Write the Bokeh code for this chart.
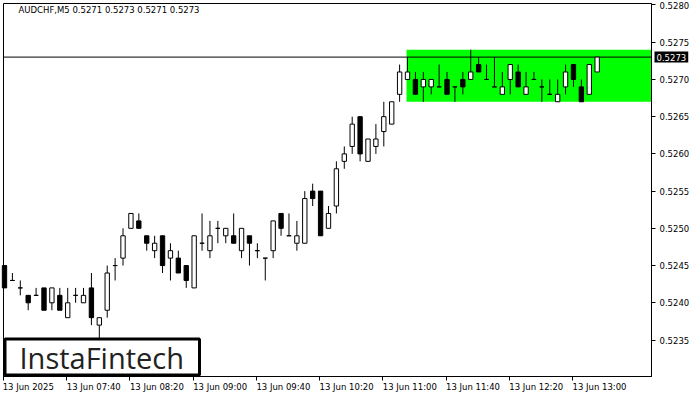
from bokeh.plotting import figure
from bokeh.models import (FixedTicker, Label, BoxAnnotation, ColumnDataSource,
                          PrintfTickFormatter, LinearAxis, CustomJSTickFormatter)
from bokeh.embed import file_html
from bokeh.resources import INLINE

title_text = "AUDCHF,M5  0.5271 0.5273 0.5271 0.5273"

opens = [0.5245, 0.5243, 0.5242, 0.5241, 0.5241, 0.5242, 0.5240, 0.5241, 0.5238, 0.5241,
         0.5240, 0.5242, 0.5237, 0.5239, 0.5245, 0.5246, 0.5250, 0.5251, 0.5249, 0.5247,
         0.5249, 0.5246, 0.5246, 0.5245, 0.5242, 0.5248, 0.5247, 0.5250, 0.5249, 0.5249,
         0.5247, 0.5249, 0.5247, 0.5246, 0.5247, 0.5252, 0.5249, 0.5248, 0.5248, 0.5255,
         0.5255, 0.5250, 0.5253, 0.5259, 0.5261, 0.5265, 0.5259, 0.5261, 0.5263, 0.5264,
         0.5268, 0.5270, 0.5270, 0.5269, 0.5269, 0.5269, 0.5270, 0.5269, 0.5270, 0.5270,
         0.5272, 0.5270, 0.5269, 0.5268, 0.5270, 0.5271, 0.5268, 0.5270, 0.5269, 0.5268,
         0.5267, 0.5269, 0.5272, 0.5269, 0.5268, 0.5271]
highs = [0.5245, 0.5244, 0.5243, 0.5241, 0.5242, 0.5242, 0.5242, 0.5242, 0.5242, 0.5242,
         0.5242, 0.5244, 0.5238, 0.5245, 0.5246, 0.5250, 0.5252, 0.5252, 0.5249, 0.5249,
         0.5249, 0.5248, 0.5247, 0.5245, 0.5249, 0.5252, 0.5251, 0.5251, 0.5250, 0.5252,
         0.5250, 0.5249, 0.5248, 0.5246, 0.5251, 0.5252, 0.5252, 0.5251, 0.5255, 0.5256,
         0.5255, 0.5253, 0.5259, 0.5261, 0.5265, 0.5265, 0.5262, 0.5264, 0.5267, 0.5267,
         0.5272, 0.5273, 0.5271, 0.5271, 0.5270, 0.5272, 0.5271, 0.5269, 0.5271, 0.5274,
         0.5273, 0.5272, 0.5273, 0.5271, 0.5272, 0.5272, 0.5271, 0.5271, 0.5270, 0.5270,
         0.5270, 0.5272, 0.5272, 0.5270, 0.5272, 0.5273]
lows = [0.5242, 0.5243, 0.5241, 0.5239, 0.5241, 0.5239, 0.5239, 0.5239, 0.5238, 0.5240,
        0.5240, 0.5237, 0.5235, 0.5238, 0.5243, 0.5245, 0.5250, 0.5250, 0.5247, 0.5246,
        0.5244, 0.5243, 0.5244, 0.5242, 0.5242, 0.5247, 0.5246, 0.5248, 0.5248, 0.5248,
        0.5246, 0.5245, 0.5246, 0.5243, 0.5246, 0.5249, 0.5249, 0.5247, 0.5248, 0.5253,
        0.5249, 0.5250, 0.5252, 0.5258, 0.5260, 0.5259, 0.5259, 0.5260, 0.5261, 0.5264,
        0.5267, 0.5270, 0.5268, 0.5267, 0.5268, 0.5269, 0.5268, 0.5267, 0.5268, 0.5270,
        0.5271, 0.5270, 0.5269, 0.5268, 0.5268, 0.5269, 0.5268, 0.5270, 0.5267, 0.5268,
        0.5267, 0.5268, 0.5269, 0.5267, 0.5268, 0.5271]
closes = [0.5242, 0.5243, 0.5242, 0.5240, 0.5241, 0.5239, 0.5242, 0.5239, 0.5240, 0.5241,
          0.5241, 0.5238, 0.5238, 0.5244, 0.5245, 0.5249, 0.5252, 0.5250, 0.5248, 0.5248,
          0.5245, 0.5247, 0.5244, 0.5243, 0.5249, 0.5248, 0.5249, 0.5250, 0.5250, 0.5248,
          0.5250, 0.5248, 0.5247, 0.5246, 0.5251, 0.5250, 0.5249, 0.5249, 0.5254, 0.5254,
          0.5249, 0.5252, 0.5258, 0.5260, 0.5264, 0.5260, 0.5262, 0.5262, 0.5265, 0.5267,
          0.5271, 0.5271, 0.5268, 0.5270, 0.5270, 0.5269, 0.5268, 0.5269, 0.5269, 0.5271,
          0.5271, 0.5270, 0.5269, 0.5269, 0.5272, 0.5269, 0.5269, 0.5270, 0.5269, 0.5268,
          0.5268, 0.5271, 0.5270, 0.5267, 0.5272, 0.5273]

pattern_start = 51

x_tick_bars = [0, 8, 16, 24, 32, 40, 48, 56, 64, 72]
x_tick_labels = ["13 Jun 2025", "13 Jun 07:40", "13 Jun 08:20", "13 Jun 09:00",
                 "13 Jun 09:40", "13 Jun 10:20", "13 Jun 11:00", "13 Jun 11:40",
                 "13 Jun 12:20", "13 Jun 13:00"]
price_ticks = [0.5235, 0.5240, 0.5245, 0.5250, 0.5255, 0.5260, 0.5265, 0.5270, 0.5275, 0.5280]

# ---------------- layout (pixels of the figure) ----------------
W, H = 692, 392
CL, CR, CT, CB = 3, 651, 3, 376          # chart box in figure pixels
cx0, cx1 = -0.125, 81.875                 # chart box in bar units
cy0, cy1 = 0.52301, 0.52802               # chart box in price units
Sx = (CR - CL) / (cx1 - cx0)
Sy = (CB - CT) / (cy1 - cy0)
xr = (cx0 - CL / Sx, cx1 + (W - CR) / Sx)
yr = (cy0 - (H - CB) / Sy, cy1 + CT / Sy)

n = len(opens)
src = ColumnDataSource(dict(
    x=list(range(n)),
    high=highs,
    low=lows,
    top=[max(o, c) for o, c in zip(opens, closes)],
    bottom=[min(o, c) for o, c in zip(opens, closes)],
    fill=["white" if c >= o else "black" for o, c in zip(opens, closes)],
))

p = figure(width=W, height=H, x_range=xr, y_range=yr,
           output_backend="svg", toolbar_location=None, y_axis_location="right",
           min_border=0, min_border_left=0, min_border_right=0,
           min_border_top=0, min_border_bottom=0)
p.xgrid.visible = False
p.ygrid.visible = False
p.outline_line_color = None
p.background_fill_color = "white"
p.border_fill_color = "white"

# pattern rectangle (rising-trend continuation range)
p.quad(left=[pattern_start - 0.125], right=[cx1],
       top=[max(highs[pattern_start:])], bottom=[min(lows[pattern_start:])],
       fill_color="#00FF00", line_color=None)

# current price line
p.segment(x0=[cx0], x1=[cx1], y0=[closes[-1]], y1=[closes[-1]], line_color="black", line_width=1)

# candles
p.segment(x0="x", y0="low", x1="x", y1="high", source=src, line_color="black", line_width=1)
p.vbar(x="x", width=0.55, top="top", bottom="bottom", source=src,
       fill_color="fill", line_color="black", line_width=1)

# chart border
p.quad(left=[cx0], right=[cx1], bottom=[cy0], top=[cy1], fill_color=None,
       line_color="black", line_width=1)

font = "DejaVu Sans"
fsize = "8.5px"

# price axis
ya = p.yaxis[0]
ya.fixed_location = cx1
ya.bounds = (cy0, cy1)
ya.ticker = FixedTicker(ticks=price_ticks)
ya.formatter = PrintfTickFormatter(format="%.4f")
ya.major_tick_out = 4
ya.major_tick_in = 0
ya.minor_tick_line_color = None
ya.axis_line_color = "black"
ya.major_tick_line_color = "black"
ya.major_label_text_font = font
ya.major_label_text_font_size = fsize
ya.major_label_text_color = "black"
ya.major_label_standoff = 4

# time axis: tick marks
xa = p.xaxis[0]
xa.fixed_location = cy0
xa.bounds = (cx0, cx1)
xa.ticker = FixedTicker(ticks=[t - 0.125 for t in x_tick_bars])
xa.formatter = CustomJSTickFormatter(code="return ''")
xa.major_tick_out = 4
xa.major_tick_in = 0
xa.minor_tick_line_color = None
xa.axis_line_color = "black"
xa.major_tick_line_color = "black"

# time axis: left-aligned labels (tick positions shifted by half a label width)
label_ticks = [t - 0.125 + (4.5 * len(s) / 2) / Sx for t, s in zip(x_tick_bars, x_tick_labels)]
xl = LinearAxis(fixed_location=cy0, ticker=FixedTicker(ticks=label_ticks),
                formatter=CustomJSTickFormatter(args=dict(labs=x_tick_labels),
                                                code="return labs[index]"),
                axis_line_color=None, major_tick_line_color=None, minor_tick_line_color=None,
                major_tick_out=0, major_tick_in=0, major_label_standoff=5,
                major_label_text_font=font, major_label_text_font_size=fsize,
                major_label_text_color="black")
p.add_layout(xl, "below")

# title
p.add_layout(Label(x=18, y=H - 4, x_units="screen", y_units="screen", text=title_text,
                   text_font=font, text_font_size=fsize, text_color="black",
                   text_align="left", text_baseline="top"))

# current price tag on the price axis
p.add_layout(Label(x=cx1, y=closes[-1], x_offset=3, text="%.4f" % closes[-1],
                   text_font=font, text_font_size=fsize, text_color="white",
                   text_align="left", text_baseline="middle",
                   background_fill_color="black", padding=2))

# logo
p.add_layout(BoxAnnotation(left=CL + 1.5, right=CL + 196, bottom=H - CB + 1.5, top=H - CB + 37.5,
                           left_units="screen", right_units="screen",
                           top_units="screen", bottom_units="screen",
                           fill_color="white", fill_alpha=1, line_color="black",
                           line_width=3, line_alpha=1))
p.add_layout(Label(x=CL + 16, y=H - CB + 19.5, x_units="screen", y_units="screen",
                   text="InstaFintech", text_font="Open Sans", text_font_size="29px",
                   text_color="#222222", text_align="left", text_baseline="middle"))

open("out.html", "w").write(file_html(p, INLINE))
